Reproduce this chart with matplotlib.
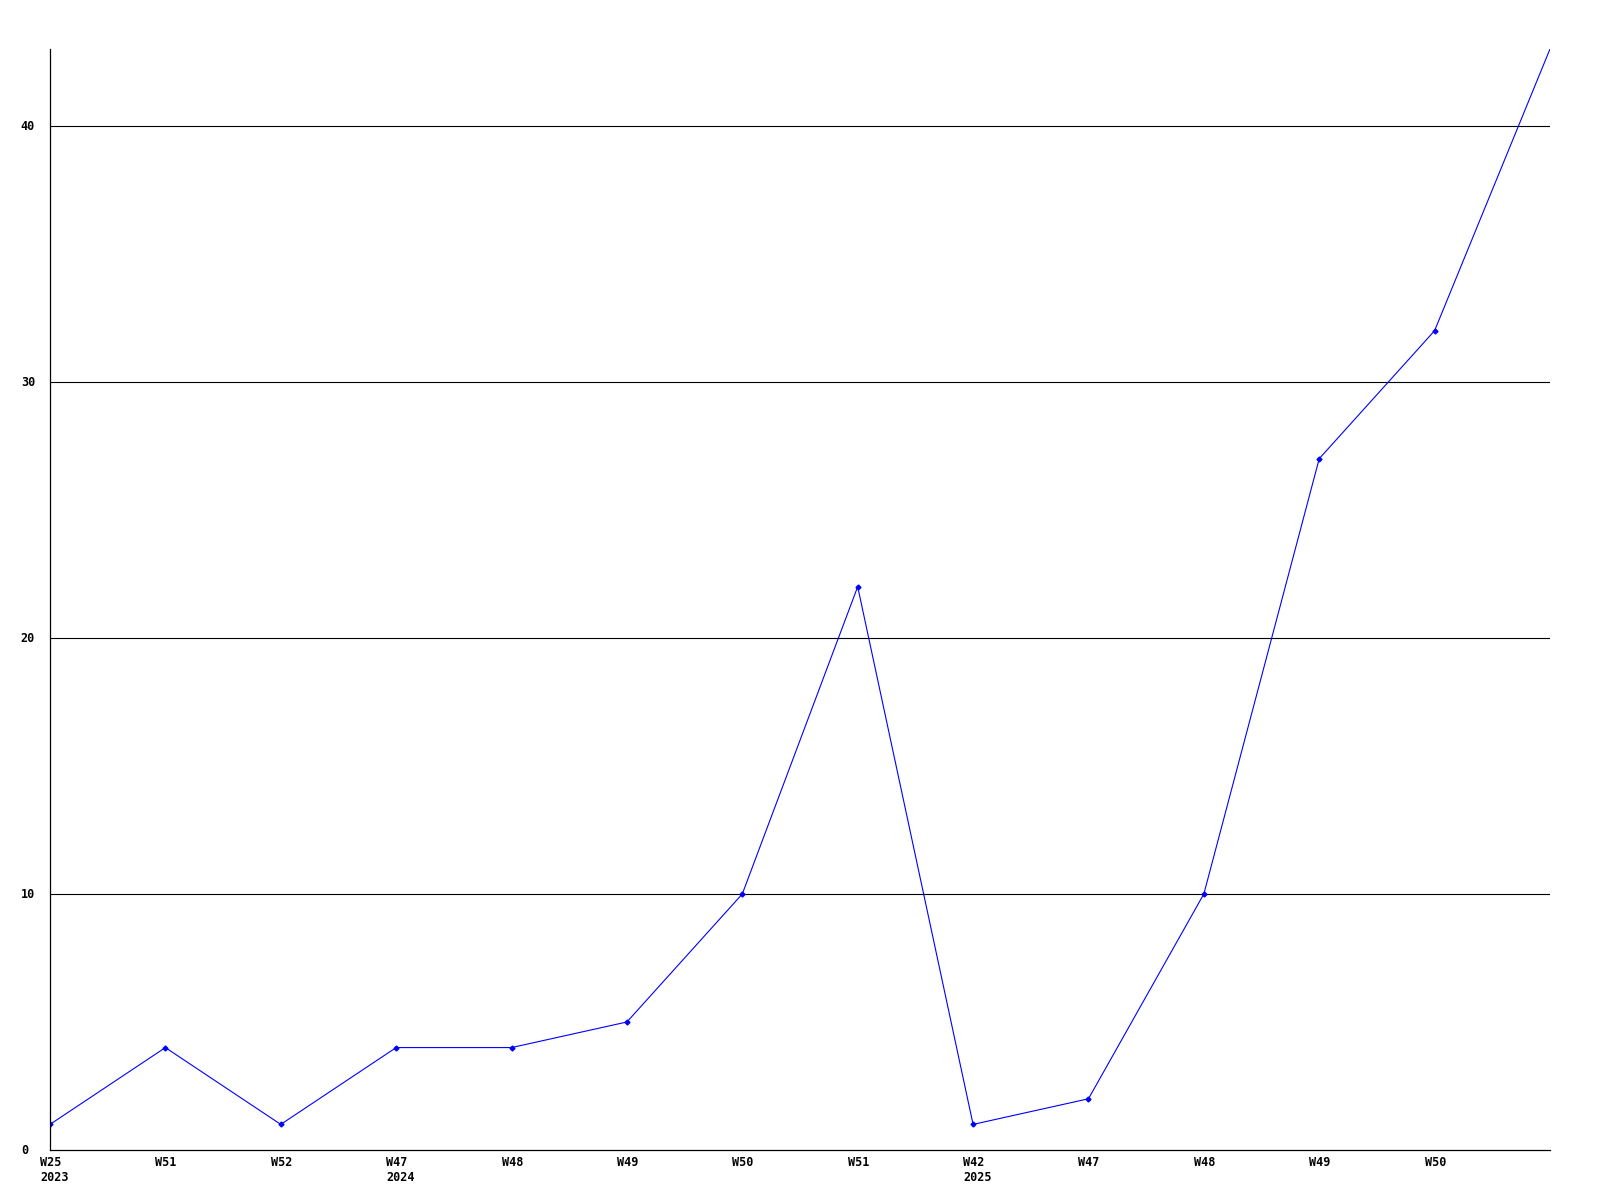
import matplotlib.pyplot as plt
from matplotlib.transforms import ScaledTranslation

weeks = ["W25\n2023", "W51", "W52", "W47\n2024", "W48", "W49", "W50",
         "W51", "W42\n2025", "W47", "W48", "W49", "W50", ""]
values = [1, 4, 1, 4, 4, 5, 10, 22, 1, 2, 10, 27, 32, 43]
yticks = [0, 10, 20, 30, 40]

plt.rcParams['font.family'] = 'DejaVu Sans Mono'
plt.rcParams['font.weight'] = 'bold'

fig = plt.figure(figsize=(16, 12), dpi=100)
ax = fig.add_axes([50/1600, 1 - 1150/1200, 1500/1600, 1101/1200])

x = list(range(len(values)))
ax.plot(x, values, color='#0000ff', lw=0.8, marker='D', markersize=2.5,
        markevery=list(range(len(values) - 1)))

ax.set_xlim(0, len(values) - 1)
ax.set_ylim(0, max(values))
ax.set_xticks(x)
ax.set_xticklabels(weeks, fontsize=8.5, ha='left', fontweight='bold')
ax.set_yticks(yticks)
ax.set_yticklabels([str(v) for v in yticks], fontsize=8.5, ha='left', fontweight='bold')
ax.tick_params(axis='both', length=0)
ax.tick_params(axis='y', pad=21)
ax.tick_params(axis='x', pad=4)
for lab in ax.get_xticklabels():
    lab.set_transform(lab.get_transform() + ScaledTranslation(-10/100, 0, fig.dpi_scale_trans))
for lab in ax.get_yticklabels():
    lab.set_transform(lab.get_transform() + ScaledTranslation(0, 1/100, fig.dpi_scale_trans))

for v in yticks[1:]:
    ax.axhline(v, color='black', lw=0.8, zorder=0)

for s in ['top', 'right']:
    ax.spines[s].set_visible(False)
for s in ['left', 'bottom']:
    ax.spines[s].set_linewidth(0.9)

fig.savefig('out.png', dpi=100)
